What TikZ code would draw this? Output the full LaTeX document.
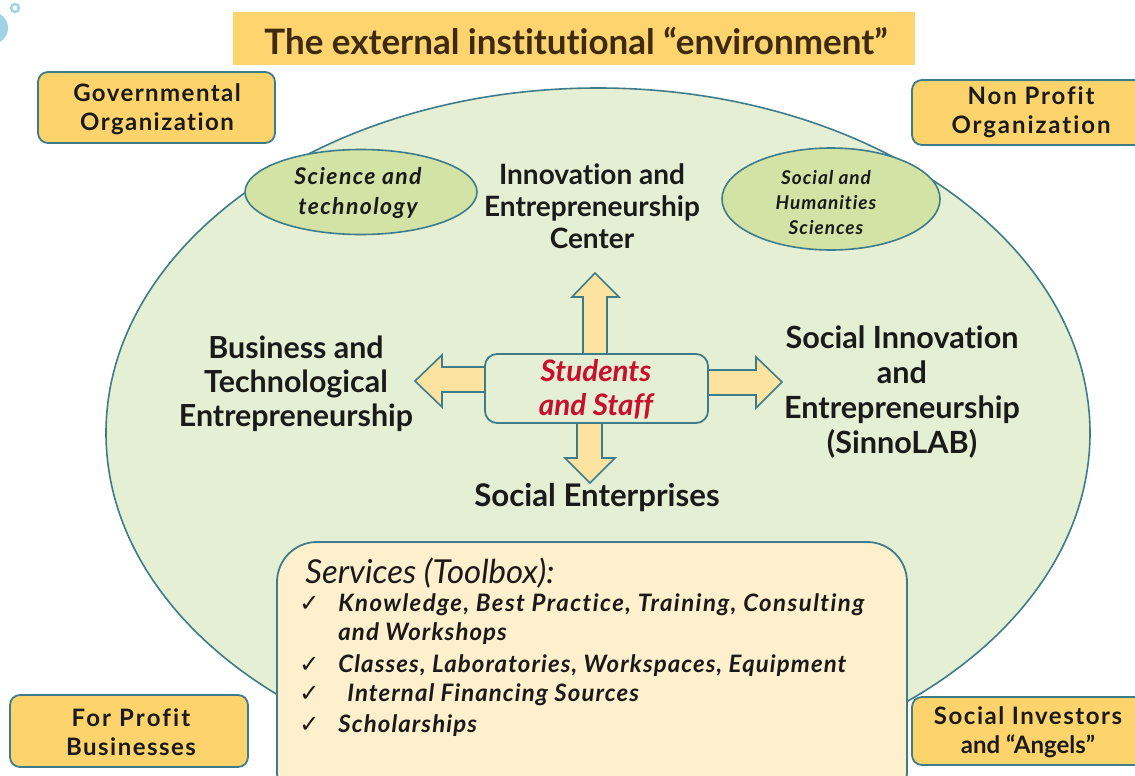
\documentclass[tikz,border=0pt]{standalone}
\usepackage{fontspec}
\setmainfont{Lato}[Ligatures=NoCommon]
\newfontfamily\dejavu{DejaVu Sans}
\usetikzlibrary{shapes.geometric}
\definecolor{edge}{HTML}{3E7C8C}
\definecolor{orgfill}{HTML}{FDD36C}
\definecolor{titlefill}{HTML}{FDD46E}
\definecolor{bgreen}{HTML}{E5EFD3}
\definecolor{sgreen}{HTML}{D3E3A6}
\definecolor{arrfill}{HTML}{FDE3A0}
\definecolor{servfill}{HTML}{FEF0CD}
\definecolor{redtxt}{HTML}{C8102E}
\definecolor{titletxt}{HTML}{3D2A10}
\definecolor{txt}{HTML}{1A1A1A}
\definecolor{deco}{HTML}{9FD3E6}
\newcommand{\ls}[1]{\addfontfeature{LetterSpace=#1}}
\tikzset{
  orgbox/.style={draw=edge, line width=0.9pt, fill=orgfill, rounded corners=5pt, inner sep=0pt},
  orglbl/.style={align=center, font=\bfseries\fontsize{12}{14.5}\selectfont\ls{6}, text=txt},
  biglbl/.style={align=center, font=\bfseries\fontsize{15.2}{17}\selectfont, text=txt},
  smallell/.style={ellipse, draw=edge, line width=0.8pt, fill=sgreen, inner sep=0pt},
  blockarrow/.style={draw=edge, line width=0.8pt, fill=arrfill, line join=miter},
  servitem/.style={anchor=base west, inner sep=0pt, font=\bfseries\itshape\fontsize{12}{14}\selectfont\ls{4.5}, text=txt},
  checkmk/.style={anchor=base west, inner sep=0pt, font=\dejavu\fontsize{12}{14}\selectfont, text=txt}
}
\begin{document}
\begin{tikzpicture}[x=0.5pt,y=-0.5pt]
\useasboundingbox (0,0) rectangle (1135,776);
\clip (0,0) rectangle (1135,776);
% decoration top-left
\fill[deco] (-8,28) circle (16);
\draw[deco, line width=1.2pt] (15,8) circle (4);
% title
\node[fill=titlefill, minimum width=341pt, minimum height=26.5pt, inner sep=0pt] (title) at (574,38.5) {};
\node[font=\fontsize{17.5}{20}\selectfont\bfseries, text=titletxt] (titletext) at (576,41) {The external institutional “environment”};
% big ellipse
\node[ellipse, draw=edge, line width=0.8pt, fill=bgreen, minimum width=492pt, minimum height=345pt, inner sep=0pt] (env) at (598,433) {};
% small ellipses
\node[smallell, minimum width=116pt, minimum height=42.5pt] (sci) at (361,192) {};
\node[align=center, font=\bfseries\itshape\fontsize{11.5}{15}\selectfont\ls{6}, text=txt] (scit) at (358,193) {Science and\\technology};
\node[smallell, minimum width=109pt, minimum height=51pt] (soc) at (831,199) {};
\node[align=center, font=\bfseries\itshape\fontsize{9.5}{12.5}\selectfont\ls{5}, text=txt] (soct) at (826,203) {Social and\\Humanities\\Sciences};
% arrows
\draw[blockarrow] (583,356) -- (583,297) -- (572,297) -- (595,273) -- (619,297) -- (607,297) -- (607,356);
\draw[blockarrow] (487,367) -- (442,367) -- (442,355) -- (415,381) -- (442,407) -- (442,392) -- (487,392);
\draw[blockarrow] (706,370) -- (756,370) -- (756,357) -- (782,382) -- (756,408) -- (756,395) -- (706,395);
\draw[blockarrow] (577,421) -- (577,458) -- (565,458) -- (590,483) -- (615,458) -- (602,458) -- (602,421);
% center box
\node[draw=edge, line width=0.9pt, fill=bgreen, rounded corners=6pt, minimum width=111.5pt, minimum height=34.5pt, inner sep=0pt] (core) at (596.5,388.5) {};
\node[align=center, font=\bfseries\itshape\fontsize{14.8}{17}\selectfont, text=redtxt] (coret) at (596,389) {Students\\and Staff};
% labels
\node[biglbl, font=\bfseries\fontsize{14}{16}\selectfont] (iec) at (592,206) {Innovation and\\Entrepreneurship\\Center};
\node[biglbl] (bte) at (296,384) {Business and\\Technological\\Entrepreneurship};
\node[biglbl, font=\bfseries\fontsize{15.3}{17.6}\selectfont] (sie) at (902,392) {Social Innovation\\and\\Entrepreneurship\\(SinnoLAB)};
\node[biglbl, font=\bfseries\fontsize{15.6}{17}\selectfont] (se) at (597,498) {Social Enterprises};
% services box
\node[draw=edge, line width=0.9pt, fill=servfill, rounded corners=20pt, minimum width=315pt, minimum height=135pt, inner sep=0pt] (serv) at (592,677) {};
\node[anchor=base west, inner sep=0pt, font=\itshape\fontsize{16.5}{19}\selectfont, text=txt] (servh) at (305,583) {Services (Toolbox):};
\node[checkmk] (c1) at (299,611) {✓};
\node[servitem, font=\bfseries\itshape\fontsize{12}{14}\selectfont\ls{6}] (s1) at (338,611) {Knowledge, Best Practice, Training, Consulting};
\node[servitem] (s1b) at (338,640) {and Workshops};
\node[checkmk] (c2) at (299,672) {✓};
\node[servitem] (s2) at (338,672) {Classes, Laboratories, Workspaces, Equipment};
\node[checkmk] (c3) at (299,701) {✓};
\node[servitem] (s3) at (347,701) {Internal Financing Sources};
\node[checkmk] (c4) at (299,732) {✓};
\node[servitem] (s4) at (338,732) {Scholarships};
% corner boxes
\node[orgbox, minimum width=118.5pt, minimum height=35.5pt] (gov) at (156.5,107.5) {};
\node[orglbl] (govt) at (157,109) {Governmental\\Organization};
\node[orgbox, minimum width=116.5pt, minimum height=32.5pt] (npo) at (1028.5,112.5) {};
\node[orglbl, font=\bfseries\fontsize{12}{14.5}\selectfont\ls{8}] (npot) at (1031,112) {Non Profit\\Organization};
\node[orgbox, minimum width=119pt, minimum height=36pt] (fpb) at (129,731) {};
\node[orglbl] (fpbt) at (131,732) {{\ls{9}For Profit}\\Businesses};
\node[orgbox, minimum width=116.5pt, minimum height=34pt] (sia) at (1028.5,731) {};
\node[orglbl, font=\bfseries\fontsize{12}{14.5}\selectfont] (siat) at (1028,732) {{\ls{6.5}Social Investors}\\and “Angels”};
\end{tikzpicture}
\end{document}
